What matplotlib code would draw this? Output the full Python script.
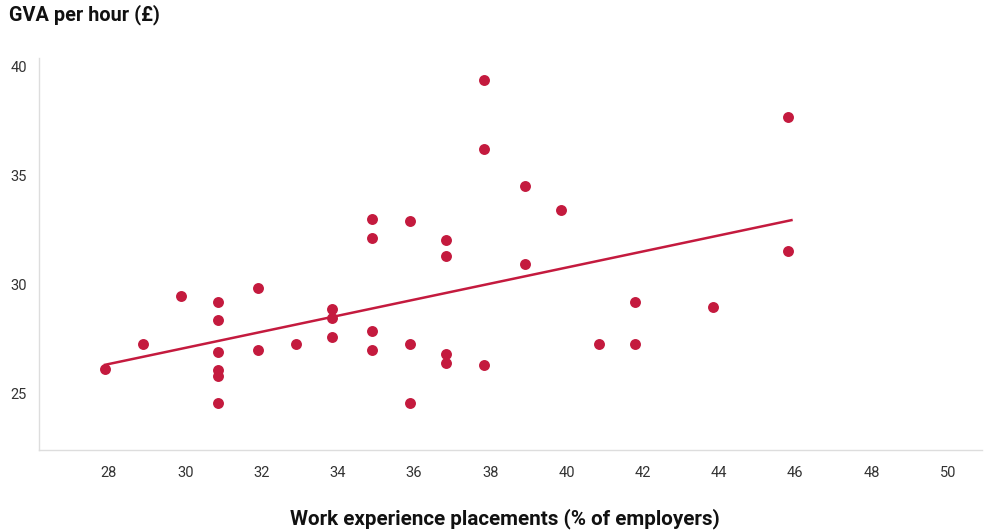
import matplotlib; matplotlib.use("Agg")
import matplotlib.pyplot as plt

# work experience placements (% of employers) vs GVA per hour (GBP)
placements = [27.9, 28.9, 29.9, 30.85, 30.85, 30.85, 30.85, 30.85, 30.85,
              31.9, 31.9, 32.9, 33.85, 33.85, 33.85, 34.9, 34.9, 34.9, 34.9,
              35.9, 35.9, 35.9, 36.85, 36.85, 36.85, 36.85, 37.85, 37.85, 37.85,
              38.9, 38.9, 39.85, 40.85, 41.8, 41.8, 43.85, 45.8, 45.8]
gva = [26.1, 27.25, 29.45, 29.2, 28.35, 26.9, 26.05, 25.8, 24.55,
       29.85, 27.0, 27.25, 28.85, 28.45, 27.6, 33.0, 32.15, 27.85, 27.0,
       32.9, 27.25, 24.55, 32.05, 31.3, 26.8, 26.4, 39.4, 36.2, 26.3,
       34.5, 30.95, 33.4, 27.25, 29.2, 27.25, 28.95, 37.7, 31.55]
# published trend line, ends
trend_x = [27.9, 45.9]
trend_y = [26.3, 32.95]
xticks = [28, 30, 32, 34, 36, 38, 40, 42, 44, 46, 48, 50]
yticks = [25, 30, 35, 40]

RED = "#C41A3E"
plt.rcParams["font.family"] = ["Roboto", "DejaVu Sans"]

fig = plt.figure(figsize=(9.84, 5.31), dpi=100)
ax = fig.add_axes([0.0401, 0.152, 0.958, 0.739])

ax.scatter(placements, gva, s=62, color=RED, linewidths=0, zorder=3)
ax.plot(trend_x, trend_y, color=RED, lw=1.8, zorder=2)

ax.set_xlim(26.18, 50.9)
ax.set_ylim(22.37, 40.41)
ax.set_xticks(xticks); ax.set_yticks(yticks)
ax.tick_params(length=0, labelsize=10.5, labelcolor="#333333")
ax.tick_params(axis="x", pad=11)
ax.tick_params(axis="y", pad=9)
for s in ("top", "right"):
    ax.spines[s].set_visible(False)
for s in ("left", "bottom"):
    ax.spines[s].set_color("#dddddd"); ax.spines[s].set_linewidth(1.0)

fig.text(9/984, 1 - 4/531, "GVA per hour (£)", ha="left", va="top",
         fontsize=14.3, fontweight="bold", color="#111111")
fig.text(505/984, 1 - 519/531, "Work experience placements (% of employers)",
         ha="center", va="center", fontsize=14.9, fontweight="bold", color="#111111")

fig.savefig("out.png", dpi=100)
